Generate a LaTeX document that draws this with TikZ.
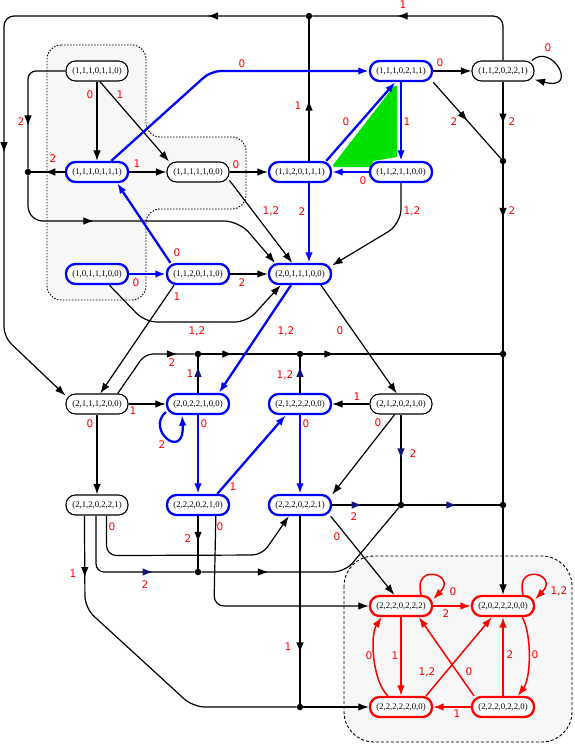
\documentclass[tikz,border=0pt]{standalone}
\usepackage{fontspec}
\newfontfamily\nodefont{Liberation Serif}
\newfontfamily\labfont{DejaVu Sans}
\usetikzlibrary{arrows.meta,decorations.markings,calc}
\definecolor{clfill}{RGB}{247,247,247}
\definecolor{navyarr}{RGB}{20,20,120}
\definecolor{grn}{RGB}{0,225,0}
\begin{document}
\begin{tikzpicture}[x=1pt,y=-1pt,
  base/.style={rounded corners=9.5pt, minimum width=62pt, minimum height=20pt, inner sep=0pt, fill=white, font=\nodefont\fontsize{8.7}{9}\selectfont},
  knode/.style={base, draw=black, line width=1.1pt},
  bnode/.style={base, draw=blue, line width=2.3pt},
  rnode/.style={base, draw=red, line width=2.3pt},
  ln/.style={draw=black, line width=1.2pt},
  bln/.style={draw=blue, line width=2.3pt},
  rln/.style={draw=red, line width=1.5pt},
  arr/.style={-{Latex[length=10.5pt,width=7.5pt]}},
  midarr/.style={postaction={decorate,decoration={markings,mark=at position #1 with {\arrow{Latex[length=10.5pt,width=7.5pt]}}}}},
  navarr/.style={postaction={decorate,decoration={markings,mark=at position #1 with {\arrow{Latex[length=10.5pt,width=7.5pt,color=navyarr]}}}}},
  jdot/.style={circle, fill=black, inner sep=0pt, minimum size=6.5pt},
  lab/.style={text=red, font=\labfont\fontsize{10.5}{12}\selectfont, inner sep=0pt},
]
\useasboundingbox (0,0) rectangle (574,744);

% clusters
\path[fill=clfill, draw=black, line width=0.9pt, dash pattern=on 1.5pt off 1.5pt, rounded corners=14pt]
  (47,45) -- (146,45) -- (146,137) -- (246,137) -- (246,209) -- (146,209) -- (146,300) -- (47,300) -- cycle;
\path[fill=clfill, draw=black, line width=0.9pt, dash pattern=on 3pt off 2pt, rounded corners=30pt]
  (344,556) rectangle (572,742);

% green region
\fill[grn] (333,165) -- (394,86) -- (397,86) -- (397,157) -- (373,161) -- (372,167) -- (334,167) -- cycle;

% nodes
\node[knode] (A) at (97,71) {(1,1,1,0,1,1,0)};
\node[bnode] (B) at (401,71) {(1,1,1,0,2,1,1)};
\node[knode] (C) at (503,71) {(1,1,2,0,2,2,1)};
\node[bnode] (D) at (97,172) {(1,1,1,0,1,1,1)};
\node[knode] (E) at (198,172) {(1,1,1,1,1,0,0)};
\node[bnode] (F) at (300,172) {(1,1,2,0,1,1,1)};
\node[bnode] (G) at (401,172) {(1,1,2,1,1,0,0)};
\node[bnode] (H) at (97,274) {(1,0,1,1,1,0,0)};
\node[bnode] (I) at (198,274) {(1,1,2,0,1,1,0)};
\node[bnode] (J) at (300,274) {(2,0,1,1,1,0,0)};
\node[knode] (K) at (97,404) {(2,1,1,1,2,0,0)};
\node[bnode] (L) at (198,404) {(2,0,2,2,1,0,0)};
\node[bnode] (M) at (300,404) {(2,1,2,2,2,0,0)};
\node[knode] (N) at (401,404) {(2,1,2,0,2,1,0)};
\node[knode] (O) at (97,505) {(2,1,2,0,2,2,1)};
\node[bnode] (P) at (198,505) {(2,2,2,0,2,1,0)};
\node[bnode] (Q) at (300,505) {(2,2,2,0,2,2,1)};
\node[rnode] (R1) at (401,606) {(2,2,2,0,2,2,2)};
\node[rnode] (R2) at (503,606) {(2,0,2,2,2,0,0)};
\node[rnode] (R3) at (401,707) {(2,2,2,2,2,0,0)};
\node[rnode] (R4) at (503,707) {(2,2,2,0,2,2,0)};

% junction dots
\node[jdot] (d1) at (309,16) {};
\node[jdot] (d2) at (28,172) {};
\node[jdot] (d3) at (503,161) {};
\node[jdot] (d4) at (198,354) {};
\node[jdot] (d5) at (300,354) {};
\node[jdot] (d6) at (503,354) {};
\node[jdot] (d7) at (401,505) {};
\node[jdot] (d8) at (503,505) {};
\node[jdot] (d9) at (198,572) {};
\node[jdot] (d10) at (300,707) {};

% black edges
\draw[ln, rounded corners=10pt, midarr=146pt] (C.north) -- (503,16) -- (d1);
\draw[ln, rounded corners=10pt, arr, midarr=98pt, midarr=434pt] (d1) -- (4,16) -- (4,337) -- (K.165);
\draw[ln, midarr=0.43] (F.north -| d1) -- (d1);
\draw[ln, arr] (C.20) .. controls (552,42) and (580,92) .. (C.-15);
\draw[ln, midarr=0.56] (C) -- (d3);
\draw[ln, midarr=0.51] (B.south east) -- (d3);
\draw[ln, midarr=0.29] (d3) -- (d6);
\draw[ln] (d6) -- (d8);
\draw[ln, arr] (d8) -- (R2);
\draw[ln, arr] (A) -- (D);
\draw[ln, arr] (A.-75) -- (E.160);
\draw[ln, rounded corners=8pt, midarr=89pt] (A.west) -- (28,71) -- (d2);
\draw[ln, rounded corners=15pt, arr, midarr=105pt] (d2) -- (28,221) -- (239,221) -- (J.156);
\draw[ln, midarr=0.6] (D.west) -- (d2);
\draw[ln, arr] (D) -- (E);
\draw[ln, arr] (E) -- (F);
\draw[ln, arr] (E.-15) -- (J.125);
\draw[ln, rounded corners=15pt, arr] (G.south) -- (401,224) -- (J.15);
\draw[ln, arr] (B) -- (C);
\draw[ln, arr] (I) -- (J);
\draw[ln, arr] (I.205) -- (K.73);
\draw[ln, rounded corners=12pt, arr] (H.-42) -- (145,322) -- (247,322) -- (J.210);
\draw[ln, arr] (J.-28) -- (N.112);
\draw[ln, rounded corners=8pt, midarr=79pt] (K.27) -- (145,354) -- (d4);
\draw[ln, midarr=0.33] (d4) -- (d5);
\draw[ln, midarr=0.16] (d5) -- (d6);
\draw[ln, navarr=0.75] (L) -- (d4);
\draw[ln, navarr=0.75] (M) -- (d5);
\draw[ln, arr] (K) -- (L);
\draw[ln, arr] (K) -- (O);
\draw[ln, arr] (N) -- (M);
\draw[ln, arr] (N.239) -- (Q.18);
\draw[ln, navarr=0.51] (N) -- (d7);
\draw[ln, navarr=0.46] (Q) -- (d7);
\draw[ln, navarr=0.55] (d7) -- (d8);
\draw[ln, arr] (Q.-20) -- (R1.121);
\draw[ln, rounded corners=8pt, navarr=110pt] (O.-95) -- (O.-95 |- d9) -- (d9);
\draw[ln, rounded corners=12pt, midarr=67pt] (d9) -- (345,572) -- (d7);
\draw[ln, midarr=0.5] (P) -- (d9);
\draw[ln, rounded corners=10pt, arr] (O.-48) -- ++(0,40) -- (262,555) -- (Q.225);
\draw[ln, rounded corners=12pt, midarr=62pt] (O.-140) -- (85,608) -- (193,707) -- (d10);
\draw[ln, arr] (d10) -- (R3);
\draw[ln, midarr=0.73] (Q) -- (d10);
\draw[ln, rounded corners=10pt, arr] (P.-32) -- (214,606) -- (R1);

% blue edges
\draw[bln, rounded corners=10pt, arr] (D.38) -- (211,71) -- (B.west);
\draw[bln, arr] (F.23) -- (B.-117);
\draw[bln, arr] (B) -- (G);
\draw[bln, arr] (G) -- (F);
\draw[bln, arr] (F.south -| d1) -- (J.north -| d1);
\draw[bln, arr] (H) -- (I);
\draw[bln, arr] (I.158) -- (D.-29);
\draw[bln, arr] (J.231) -- (L.28);
\draw[bln, arr] (L.194) .. controls (145,430) and (185,462) .. (L.215);
\draw[bln, arr] (L) -- (P);
\draw[bln, arr] (P.30) -- (M.218);
\draw[bln, arr] (M) -- (Q);

% red edges
\draw[rln, arr] (R1.29) .. controls (412,562) and (458,574) .. (R1.12);
\draw[rln, arr] (R2.29) .. controls (514,562) and (560,574) .. (R2.12);
\draw[rln, arr] (R1) -- (R2);
\draw[rln, arr] (R1) -- (R3);
\draw[rln, arr] (R3.140) .. controls (372,680) and (370,635) .. (R1.210);
\draw[rln, arr] (R3.24) -- (R2.225);
\draw[rln, arr] (R4.159) -- (R1.-32);
\draw[rln, arr] (R4) -- (R2);
\draw[rln, arr] (R2.-30) .. controls (532,635) and (531,678) .. (R4.37);
\draw[rln, arr] (R4) -- (R3);

% labels
\foreach \x/\y/\t [count=\i] in {403/5/1, 548/48/0, 242/64/0, 440/63/0, 90/95/0, 120/95/1, 21/122/2,
  298/106/1, 346/122/0, 407/122/1, 454/122/2, 512/122/2, 53/159/2, 137/164/1, 236/165/0, 363/181/0,
  271/211/{1,2}, 302/212/2, 412/211/{1,2}, 512/211/2, 177/253/0, 136/283/0, 242/283/2, 177/297/1,
  197/331/{1,2}, 286/331/{1,2}, 340/331/0, 172/363/2, 190/374/1, 285/375/{1,2}, 133/411/1, 357/397/1,
  90/424/0, 204/424/0, 162/445/2, 306/424/0, 378/423/0, 413/454/2, 233/487/1, 112/527/0, 220/527/0,
  354/517/2, 337/537/0, 188/539/2, 73/574/1, 145/585/2, 288/647/1, 453/592/0, 559/591/{1,2},
  446/614/2, 395/656/1, 369/656/0, 510/655/2, 535/655/0, 427/672/{1,2}, 469/672/0, 457/714/1}
  \node[lab] (lab\i) at (\x,\y) {\t};
\end{tikzpicture}
\end{document}
